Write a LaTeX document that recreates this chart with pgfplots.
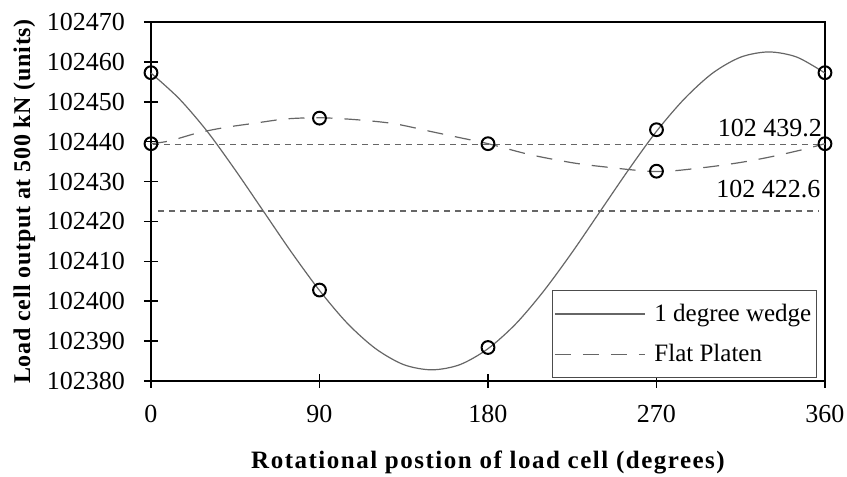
\documentclass[border=0pt]{standalone}
\usepackage{fontspec}
\setmainfont{Liberation Serif}
\newfontfamily\xlabfont[LetterSpace=6]{Liberation Serif}
\newfontfamily\ylabfont[LetterSpace=3]{Liberation Serif}
\usepackage{pgfplots}
\pgfplotsset{compat=1.18}

\begin{document}
\begin{tikzpicture}[x=1pt,y=1pt,font=\fontsize{13}{15.6}\selectfont]
\useasboundingbox (-75.5,-48) rectangle (348,190.5);
\begin{axis}[
  at={(0,0)}, anchor=south west, scale only axis,
  width=337pt, height=179.5pt,
  xmin=0, xmax=360, ymin=102380, ymax=102470,
  xtick={0,90,180,270,360},
  ytick={102380,102390,102400,102410,102420,102430,102440,102450,102460,102470},
  tick pos=left, tick align=center, major tick length=7pt,
  axis line style={line width=1.1pt},
  major tick style={line width=0.8pt, black},
  scaled y ticks=false,
  /pgf/number format/fixed,
  /pgf/number format/1000 sep={},
  /pgf/number format/assume math mode=true,
  yticklabel style={xshift=-6pt},
  xticklabel style={yshift=-5pt},
  clip=false,
  xlabel={\xlabfont\bfseries Rotational postion of load cell (degrees)},
  ylabel={\ylabfont\bfseries Load cell output at 500 kN (units)},
  xlabel style={at={(axis description cs:0.5,-0.228)}, anchor=center, font=\fontsize{12.5}{15}\selectfont},
  ylabel style={at={(axis description cs:-0.188,0.5)}, anchor=center, font=\fontsize{12}{14.4}\selectfont},
  legend style={at={(rel axis cs:0.988,0.008)}, anchor=south east, draw=black!70, line width=0.6pt,
    font=\fontsize{12.5}{15}\selectfont, row sep=3pt, inner xsep=1pt, inner ysep=3pt,
    nodes={inner xsep=1.5pt, inner ysep=3.5pt}},
  legend cell align=left,
  legend image code/.code={\draw[#1] (0pt,0pt) -- (45pt,0pt); \path (48pt,0pt);},
]
\addplot[color=black!60, line width=0.6pt, smooth] coordinates {
(0,102457.2) (15,102450.8) (30,102442.6) (45,102432.9) (60,102422.6) (75,102412.3)
(90,102402.7) (105,102394.4) (120,102388.1) (135,102384.1) (150,102382.8) (165,102384.1)
(180,102388.1) (195,102394.4) (210,102402.7) (225,102412.3) (240,102422.6) (255,102432.9)
(270,102442.6) (285,102450.8) (300,102457.2) (315,102461.2) (330,102462.5) (345,102461.2)
(360,102457.2)};
\addlegendentry{1 degree wedge}
\addplot[color=black!60, line width=0.6pt, smooth, dash pattern=on 8pt off 6pt] coordinates {
(0,102439.5) (10,102440.2) (25,102442.2) (40,102443.6) (55,102444.6) (72,102445.7)
(90,102446) (110,102445.5) (130,102444.5) (150,102442.5) (165,102441) (180,102439.5)
(202,102436.8) (224,102434.8) (240,102433.8) (270,102432.5) (295,102433.5) (315,102434.8)
(331,102436.2) (348,102438) (360,102439.5)};
\addlegendentry{Flat Platen}
\addplot[forget plot, color=black!60, line width=0.6pt, dash pattern=on 3pt off 2.5pt]
  coordinates {(1,102439.2) (360,102439.2)};
\addplot[forget plot, color=black!60, line width=0.6pt, dash pattern=on 3pt off 2.5pt]
  coordinates {(4,102422.6) (357,102422.6)};
\addplot[forget plot, only marks, mark=o, mark size=3.2pt, black, mark options={line width=1pt}]
  coordinates {(0,102457.3) (90,102402.8) (180,102388.4) (270,102443) (360,102457.3)};
\addplot[forget plot, only marks, mark=o, mark size=3.2pt, black, mark options={line width=1pt}]
  coordinates {(0,102439.5) (90,102445.9) (180,102439.5) (270,102432.6) (360,102439.5)};
\node[anchor=base east, inner sep=0pt] at (axis cs:358.5,102441.3) {102 439.2};
\node[anchor=base east, inner sep=0pt] at (axis cs:357.7,102426) {102 422.6};
\end{axis}
\end{tikzpicture}
\end{document}
